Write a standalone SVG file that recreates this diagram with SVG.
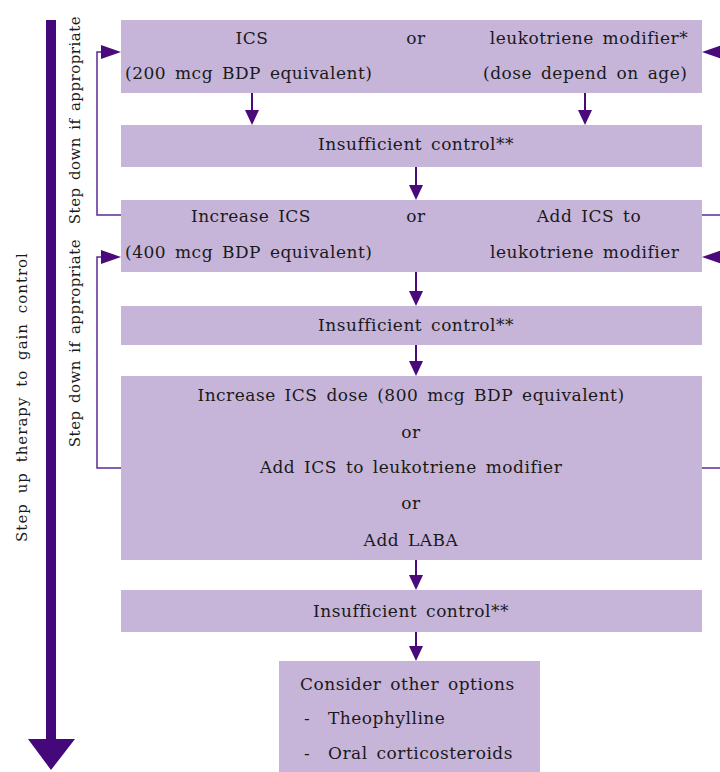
<svg xmlns="http://www.w3.org/2000/svg" width="720" height="772" viewBox="0 0 720 772">
<style>
.box{fill:#c7b5d9}
.t{font-family:"DejaVu Serif","Liberation Serif",serif;font-size:17px;letter-spacing:0.5px;word-spacing:3px;fill:#1a1a1a}
.r1{font-size:15px;letter-spacing:0.5px;word-spacing:2px}
.r2{font-size:15px;letter-spacing:1px;word-spacing:4px}
.m{text-anchor:middle}
.ln{stroke:#5b2a96;stroke-width:1.5;fill:none}
.dl{stroke:#4a0a7c;stroke-width:2;fill:none}
.ah{fill:#4a0a7c}
.big{fill:#45087a}
</style>
<rect width="720" height="772" fill="#fff"/>
<g id="big-arrow">
<rect class="big" x="46" y="20" width="10" height="720"/>
<path class="big" d="M28,739 L75,739 L51,770 Z"/>
<text class="t r2 m" transform="translate(27,397) rotate(-90)">Step up therapy to gain control</text>
</g>
<g id="n1">
<rect class="box" x="121" y="20" width="581" height="73"/>
<text class="t m" x="252" y="44">ICS</text>
<text class="t m" x="416" y="44">or</text>
<text class="t m" x="589" y="44">leukotriene modifier*</text>
<text class="t" x="125" y="79">(200 mcg BDP equivalent)</text>
<text class="t" x="483" y="79">(dose depend on age)</text>
</g>
<g id="n2">
<rect class="box" x="121" y="125" width="581" height="42"/>
<text class="t m" x="416" y="150">Insufficient control**</text>
</g>
<g id="n3">
<rect class="box" x="121" y="200" width="581" height="72"/>
<text class="t m" x="251" y="222">Increase ICS</text>
<text class="t m" x="416" y="222">or</text>
<text class="t m" x="589" y="222">Add ICS to</text>
<text class="t" x="125" y="258">(400 mcg BDP equivalent)</text>
<text class="t" x="490" y="258">leukotriene modifier</text>
</g>
<g id="n4">
<rect class="box" x="121" y="306" width="581" height="39"/>
<text class="t m" x="416" y="331">Insufficient control**</text>
</g>
<g id="n5">
<rect class="box" x="121" y="376" width="581" height="184"/>
<text class="t m" x="411" y="401">Increase ICS dose (800 mcg BDP equivalent)</text>
<text class="t m" x="411" y="438">or</text>
<text class="t m" x="411" y="473">Add ICS to leukotriene modifier</text>
<text class="t m" x="411" y="509">or</text>
<text class="t m" x="411" y="546">Add LABA</text>
</g>
<g id="n6">
<rect class="box" x="121" y="590" width="581" height="42"/>
<text class="t m" x="411" y="617">Insufficient control**</text>
</g>
<g id="n7">
<rect class="box" x="279" y="661" width="261" height="111"/>
<text class="t" x="300" y="690">Consider other options</text>
<text class="t" x="304" y="724">-</text>
<text class="t" x="328" y="724">Theophylline</text>
<text class="t" x="304" y="759">-</text>
<text class="t" x="328" y="759">Oral corticosteroids</text>
</g>
<g id="step-down-labels">
<text class="t r1 m" transform="translate(80,120) rotate(-90)">Step down if appropriate</text>
<text class="t r1 m" transform="translate(80,343) rotate(-90)">Step down if appropriate</text>
</g>
<g id="connectors">
<path class="dl" d="M252,93 V112"/><path class="ah" d="M245,110 L259,110 L252,125 Z"/>
<path class="dl" d="M585,93 V112"/><path class="ah" d="M578,110 L592,110 L585,125 Z"/>
<path class="dl" d="M416,167 V187"/><path class="ah" d="M409,185 L423,185 L416,200 Z"/>
<path class="dl" d="M416,272 V293"/><path class="ah" d="M409,291 L423,291 L416,306 Z"/>
<path class="dl" d="M416,345 V363"/><path class="ah" d="M409,361 L423,361 L416,376 Z"/>
<path class="dl" d="M416,560 V577"/><path class="ah" d="M409,575 L423,575 L416,590 Z"/>
<path class="dl" d="M416,632 V648"/><path class="ah" d="M409,646 L423,646 L416,661 Z"/>
<path class="ln" d="M121,215 H97 V52 H104"/>
<path class="ah" d="M101,45 L121,52 L101,59 Z"/>
<path class="ln" d="M121,468 H97 V257 H104"/>
<path class="ah" d="M101,250 L121,257 L101,264 Z"/>
<path class="ln" d="M702,215 H720"/>
<path class="ln" d="M702,468 H720"/>
<path class="ah" d="M722,45 L702,52 L722,59 Z"/>
<path class="ah" d="M722,250 L702,257 L722,264 Z"/>
</g>
</svg>
